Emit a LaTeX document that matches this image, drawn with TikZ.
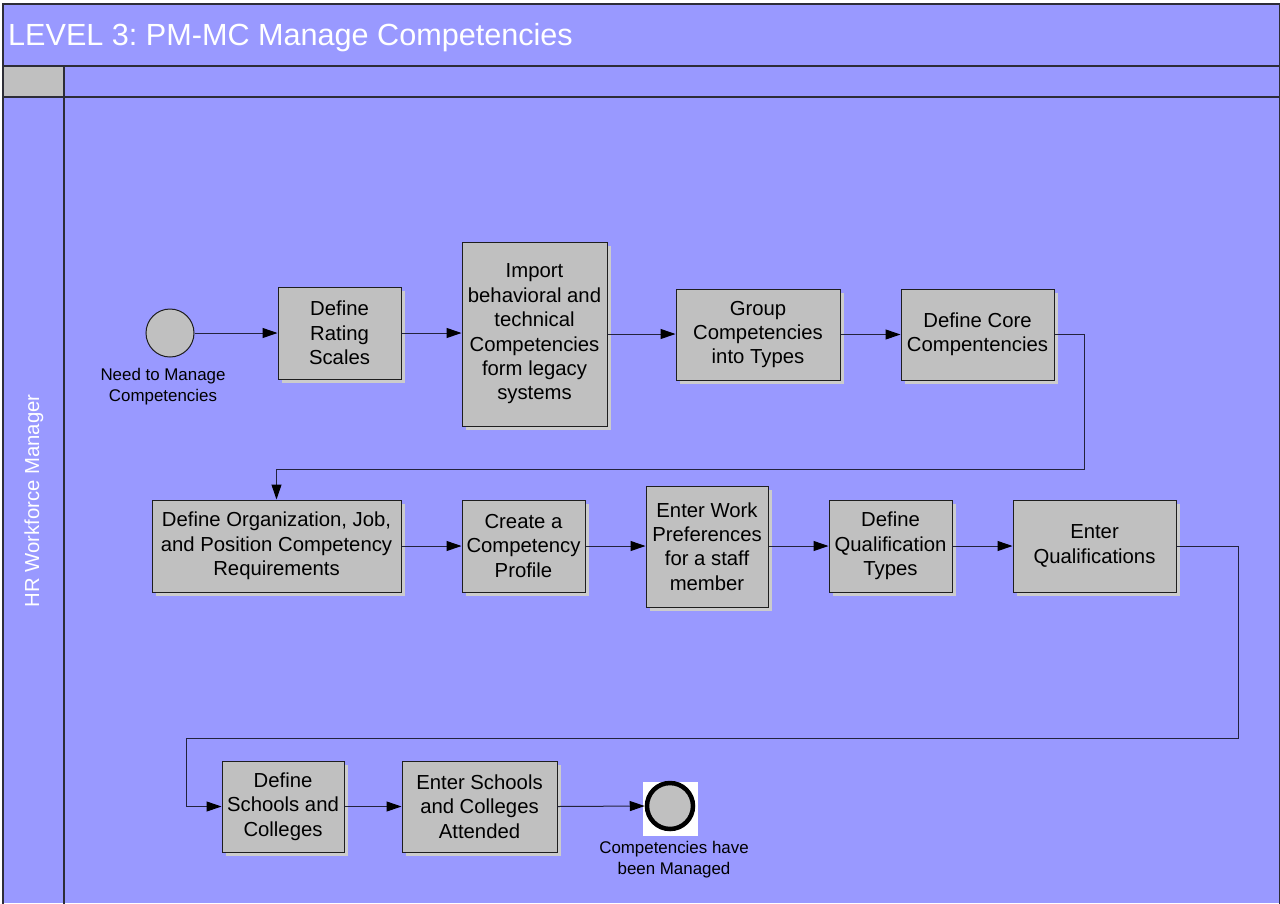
\documentclass[tikz,border=0pt]{standalone}
\usepackage{fontspec}
\setmainfont{Liberation Sans}
\usetikzlibrary{arrows.meta,shadows}
\frenchspacing

\definecolor{lanebg}{RGB}{153,153,255}
\definecolor{taskfill}{RGB}{192,192,192}
\definecolor{shadowgray}{RGB}{204,204,204}
\definecolor{edgeline}{RGB}{30,30,30}
\definecolor{frameline}{RGB}{45,45,55}
\definecolor{flowline}{RGB}{35,35,60}

\tikzset{
  task/.style={draw=edgeline, fill=taskfill, line width=1pt, align=center,
    inner sep=0pt, font=\fontsize{20.3}{24.4}\selectfont,
    drop shadow={shadow xshift=4pt, shadow yshift=-4pt, fill=shadowgray, opacity=1}},
  evlabel/.style={align=center, inner sep=0pt, font=\fontsize{16.9}{21}\selectfont},
  flow/.style={draw=flowline, line width=1pt,
    -{Triangle[length=15pt,width=10pt,color=black]}},
  frame/.style={draw=frameline, line width=1.2pt}
}

\begin{document}
\begin{tikzpicture}[x=1pt, y=-1pt]
\useasboundingbox (0,0) rectangle (1280,903);
\fill[white] (0,0) rectangle (1280,903);
\fill[lanebg] (3,4) rectangle (1280,903);

% pool header, lane header and lane frame
\fill[taskfill] (3,66) rectangle (64,97);
\draw[frame] (1279.5,903.5) -- (1279.5,4) -- (3,4) -- (3,903.5);
\draw[frame] (3,66) -- (1279.5,66);
\draw[frame] (3,97) -- (1279.5,97);
\draw[frame] (64,66) -- (64,903.5);

\node[anchor=base west, text=white, inner sep=0pt, font=\fontsize{30.6}{36}\selectfont]
  (title) at (8,45) {LEVEL 3: PM-MC Manage Competencies};
\node[rotate=90, text=white, inner sep=0pt, font=\fontsize{20.3}{24}\selectfont]
  (lane) at (34,501) {HR Workforce Manager};

% start event
\node[circle, draw=edgeline, fill=taskfill, line width=1pt, minimum size=48pt, inner sep=0pt]
  (start) at (170,333) {};
\node[evlabel] (startlbl) at (163,387) {Need to Manage\\Competencies};

% first row of tasks
\node[task, minimum width=123pt, minimum height=92pt] (b1) at (339.5,333)
  {Define\\Rating\\Scales};
\node[task, minimum width=145pt, minimum height=184pt] (b2) at (534.5,334)
  {Import\\behavioral and\\technical\\Competencies\\form legacy\\systems};
\node[task, minimum width=164pt, minimum height=91pt] (b3) at (758,334.5)
  {Group\\Competencies\\into Types};
\node[task, minimum width=153pt, minimum height=91pt] (b4) at (977.5,334.5)
  {Define Core\\Compentencies};

% second row of tasks
\node[task, minimum width=249pt, minimum height=92pt] (b5) at (276.5,546)
  {Define Organization, Job,\\and Position Competency\\Requirements};
\node[task, minimum width=123pt, minimum height=92pt] (b6) at (523.5,546)
  {Create a\\Competency\\Profile};
\node[task, minimum width=122pt, minimum height=121pt] (b7) at (707,546.5)
  {Enter Work\\Preferences\\for a staff\\member};
\node[task, minimum width=123pt, minimum height=92pt] (b8) at (890.5,546)
  {Define\\Qualification\\Types};
\node[task, minimum width=163pt, minimum height=92pt] (b9) at (1094.5,546)
  {Enter\\Qualifications};

% third row
\node[task, minimum width=122pt, minimum height=91pt] (b10) at (283,806.5)
  {Define\\Schools and\\Colleges};
\node[task, minimum width=155pt, minimum height=91pt] (b11) at (479.5,806.5)
  {Enter Schools\\and Colleges\\Attended};

% end event on its white tile
\fill[white] (643,782) rectangle (698,836);
\node[circle, draw=black, fill=taskfill, line width=4.5pt, minimum size=46pt, inner sep=0pt]
  (finish) at (670,806) {};
\node[evlabel] (finishlbl) at (674,859.5) {Competencies have\\been Managed};

% routing points of the long connectors
\coordinate (r1) at (1084,469);
\coordinate (r2) at (1238,738);
\coordinate (l2) at (186,738);

% sequence flows
\draw[flow] (start.east) -- (b1.west);
\draw[flow] (b1.east) -- (b2.west |- b1.east);
\draw[flow] (b2.east) -- (b3.west |- b2.east);
\draw[flow] (b3.east) -- (b4.west);
\draw[flow] (b4.east) -| (r1) -| (b5.north);
\draw[flow] (b5.east) -- (b6.west);
\draw[flow] (b6.east) -- (b7.west |- b6.east);
\draw[flow] (b7.east |- b8.west) -- (b8.west);
\draw[flow] (b8.east) -- (b9.west);
\draw[flow] (b9.east) -| (r2) -- (l2) |- (b10.west);
\draw[flow] (b10.east) -- (b11.west);
\draw[flow] (b11.east) -- (finish.west);
\end{tikzpicture}
\end{document}
